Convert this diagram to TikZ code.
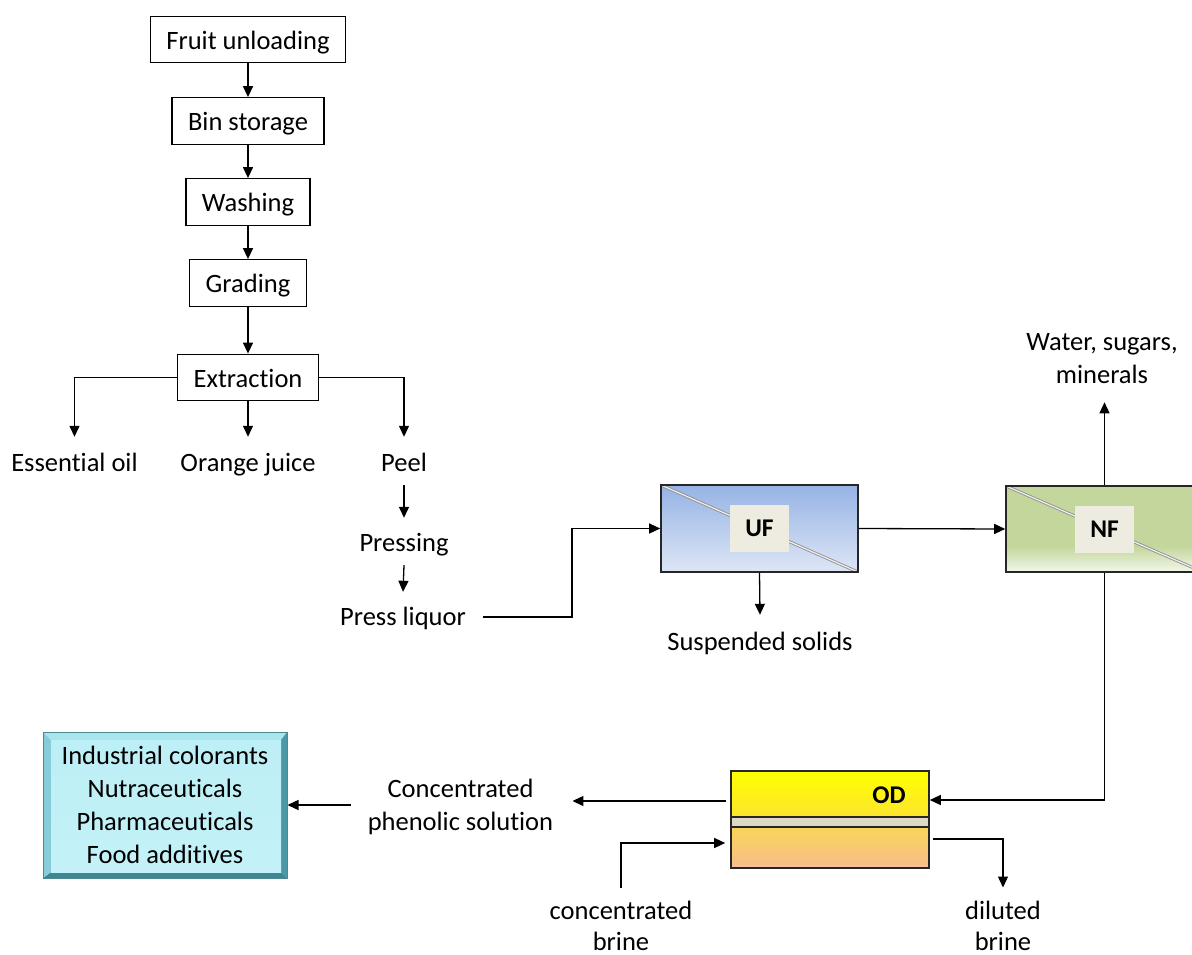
\documentclass[tikz,border=0pt]{standalone}
\usepackage{fontspec}
\setmainfont{Carlito}[Ligatures=NoCommon]
\usetikzlibrary{arrows.meta,calc}
\definecolor{ufTop}{HTML}{95B3E4}
\definecolor{ufBot}{HTML}{DEE6F6}
\definecolor{nfFill}{HTML}{C3D69B}
\definecolor{nfBot}{HTML}{F2F7EA}
\definecolor{lblFill}{HTML}{EEECE1}
\definecolor{odTop}{HTML}{FFFF00}
\definecolor{odTopB}{HTML}{FCE52E}
\definecolor{odStrip}{HTML}{DDD9C4}
\definecolor{odBotT}{HTML}{FAD55A}
\definecolor{odBotB}{HTML}{F7BE88}
\definecolor{bevT}{HTML}{A9E5EE}
\definecolor{bevL}{HTML}{86CDD9}
\definecolor{bevR}{HTML}{4B98A6}
\definecolor{bevB}{HTML}{3E8692}
\definecolor{cyTop}{HTML}{BDEFF6}
\definecolor{cyMid}{HTML}{E2FAFD}
\definecolor{cyBot}{HTML}{C3F1F7}
\definecolor{bevLine}{HTML}{4F8790}
\begin{document}
\begin{tikzpicture}[x=1pt,y=-1pt,
  every node/.style={font=\fontsize{26.5pt}{33pt}\selectfont},
  pbox/.style={draw=black, line width=1.3pt, minimum height=46.5pt, inner xsep=16pt, inner ysep=0pt, text height=19.5pt, text depth=0pt},
  txt/.style={inner sep=0pt, text height=18pt, text depth=6pt, anchor=base},
  mtxt/.style={inner sep=0pt, align=center},
  arr/.style={-{Triangle[length=11pt,width=10pt]}, line width=1.3pt},
  diag/.style={draw=gray!90, double=white!85!gray, double distance=1.3pt, line width=0.8pt},
  lblbox/.style={fill=lblFill, minimum width=59pt, minimum height=47pt, inner sep=0pt, font=\fontsize{25.5pt}{30pt}\selectfont\bfseries},
  ufbox/.style={minimum width=197pt, minimum height=87pt, inner sep=0pt, draw=black!85, line width=1.6pt,
    top color=ufTop, bottom color=ufBot,
    path picture={\draw[diag] (path picture bounding box.north west) -- (path picture bounding box.south east);}},
  nfbox/.style={minimum width=197pt, minimum height=86pt, inner sep=0pt, draw=black!85, line width=1.6pt, fill=nfFill,
    path picture={
      \coordinate (n1) at (path picture bounding box.north west);
      \coordinate (n3) at (path picture bounding box.south east);
      \shade[top color=nfFill, bottom color=nfBot] ([yshift=26pt]n1 |- n3) rectangle (n3);
      \draw[diag] (n1) -- (n3);}},
  odbox/.style={minimum width=198pt, minimum height=97pt, inner sep=0pt, draw=black!85, line width=1.6pt,
    path picture={
      \coordinate (o1) at (path picture bounding box.north west);
      \coordinate (o3) at (path picture bounding box.south east);
      \shade[top color=odTop, bottom color=odTopB] (o1) rectangle ([yshift=-46pt]o3 |- o1);
      \fill[odStrip] ([yshift=-46pt]o1) rectangle ([yshift=-56pt]o3 |- o1);
      \shade[top color=odBotT, bottom color=odBotB] ([yshift=-56pt]o1) rectangle ([yshift=3pt]o3);
      \fill[pink!40!odBotB] ([yshift=3pt]o1 |- o3) rectangle (o3);
      \draw[black!85, line width=1.6pt] ([yshift=-46pt]o1) -- ([yshift=-46pt]o3 |- o1);
      \draw[black!85, line width=1.6pt] ([yshift=-56pt]o1) -- ([yshift=-56pt]o3 |- o1);}},
  appsbox/.style={minimum width=244pt, minimum height=146pt, inner sep=0pt, align=center, draw=bevLine, line width=1pt,
    path picture={
      \coordinate (a1) at (path picture bounding box.north west);
      \coordinate (a3) at (path picture bounding box.south east);
      \coordinate (a2) at (a3 |- a1);
      \coordinate (a4) at (a1 |- a3);
      \coordinate (b1) at ([shift={(8pt,-8pt)}]a1);
      \coordinate (b2) at ([shift={(-6pt,-8pt)}]a2);
      \coordinate (b3) at ([shift={(-6pt,6pt)}]a3);
      \coordinate (b4) at ([shift={(8pt,6pt)}]a4);
      \fill[bevT] (a1) -- (a2) -- (b2) -- (b1) -- cycle;
      \fill[bevR] (a2) -- (a3) -- (b3) -- (b2) -- cycle;
      \fill[bevB] (a3) -- (a4) -- (b4) -- (b3) -- cycle;
      \fill[bevL] (a4) -- (a1) -- (b1) -- (b4) -- cycle;
      \shade[top color=cyTop, middle color=cyMid, bottom color=cyBot] (b1) rectangle (b3);}}
]
\clip (0,0) rectangle (1192,955);
\fill[white] (0,0) rectangle (1192,955);

% left flowchart
\node[pbox] (fu) at (248,39.5) {Fruit unloading};
\node[pbox] (bs) at (248,121) {Bin storage};
\node[pbox] (wa) at (248,202) {Washing};
\node[pbox] (gr) at (248,283) {Grading};
\node[pbox] (ex) at (248,377.5) {Extraction};
\draw[arr] (fu) -- (bs);
\draw[arr] (bs) -- (wa);
\draw[arr] (wa) -- (gr);
\draw[arr] (gr) -- (ex);

\node[txt] (eo) at (74.5,471) {Essential oil};
\node[txt] (oj) at (248,471) {Orange juice};
\node[txt] (pe) at (404,471) {Peel};
\node[txt] (pr) at (404,551) {Pressing};
\node[txt] (pl) at (403,625) {Press liquor};
\draw[arr] (ex.west) -| ([yshift=16pt]eo.north);
\draw[arr] (ex.south) -- ([yshift=16pt]oj.north);
\draw[arr] (ex.east) -| ([yshift=16pt]pe.north);
\draw[arr] ([yshift=-8pt]pe.south) -- ([yshift=15pt]pr.north);
\draw[arr] ([yshift=-8pt]pr.south) -- ([yshift=15pt]pl.north);

% membrane units
\node[ufbox] (uf) at (759.5,528.5) {};
\node[lblbox] (ufl) at (uf.center) {UF};
\node[nfbox] (nf) at (1104.5,529) {};
\node[lblbox] (nfl) at (nf.center) {NF};
\node[txt] (ss) at (760,650) {Suspended solids};
\node[mtxt] (wsm) at (1102,359) {Water, sugars,\\minerals};

\draw[arr] ([xshift=17pt,yshift=2pt]pl.east) -- ++(89,0) |- (uf.west);
\draw[arr] (uf.south) -- ([yshift=17pt]ss.north);
\draw[arr] (uf.east) -- (nf.west);
\draw[arr] (nf.north) -- ([yshift=-18pt]nf.north |- wsm.south);

% osmotic distillation
\node[odbox] (od) at (830,819.5) {};
\node[anchor=base, inner sep=0pt, font=\fontsize{25.5pt}{30pt}\selectfont\bfseries] (odl) at (889,803) {OD};
\node[mtxt] (cps) at (460.5,807) {Concentrated\\phenolic solution};
\node[mtxt, font=\fontsize{26.5pt}{31pt}\selectfont] (cb) at (621,926) {concentrated\\brine};
\node[mtxt, font=\fontsize{26.5pt}{31pt}\selectfont] (db) at (1003,926) {diluted\\brine};
\node[appsbox] (apps) at (165,805) {Industrial colorants\\Nutraceuticals\\Pharmaceuticals\\Food additives};

\draw[arr] (nf.south) |- ([yshift=19.5pt]od.east);
\draw[arr] ([shift={(-4pt,18.5pt)}]od.west) coordinate (odw) -- ([xshift=19pt]cps.east |- odw);
\draw[arr] ([xshift=-17pt]cps.west |- apps.east) -- (apps.east);
\draw[arr] ([yshift=13.5pt]cb.north) |- ([shift={(-5pt,-23.5pt)}]od.west);
\draw[arr] ([shift={(3pt,-19.5pt)}]od.east) -| ([yshift=13.5pt]db.north);
\end{tikzpicture}
\end{document}
